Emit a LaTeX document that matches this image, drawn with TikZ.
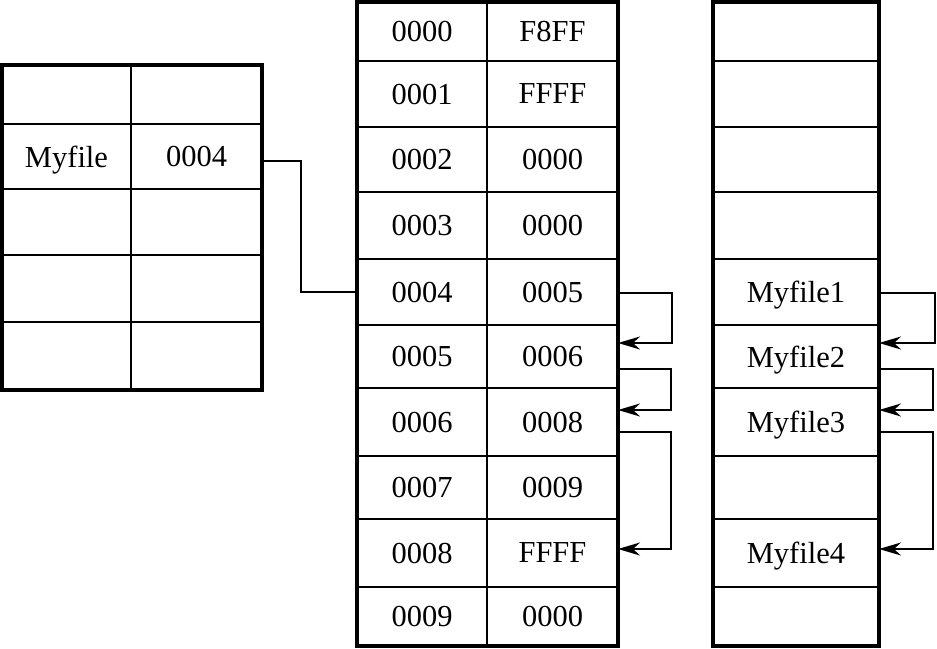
\documentclass[tikz,border=0pt]{standalone}
\usepackage{fontspec}
\setmainfont{Liberation Serif}
\usetikzlibrary{arrows.meta,calc}
\begin{document}
\begin{tikzpicture}[x=1pt,y=-1pt,
  cell/.style={draw,line width=2.2pt,rectangle,inner sep=0pt,outer sep=0pt,text depth=0pt,
    font=\fontsize{30.5}{32}\selectfont},
  outer/.style={draw,line width=3.2pt},
  link/.style={line width=2pt},
  arr/.style={line width=2pt,-{Stealth[length=22pt,width=13pt,inset=7pt]}}]
\useasboundingbox (0,0) rectangle (937,648);
% left table
\foreach \i/\t/\b/\la/\lb in {0/65/124//,1/124/189/Myfile/0004,2/189/255//,3/255/322//,4/322/390//}{
  \node[cell,minimum width=129pt,minimum height={(\b-\t)*1pt}] (l\i a) at (66.5,{(\t+\b)/2}) {\la};
  \node[cell,minimum width=131pt,minimum height={(\b-\t)*1pt}] (l\i b) at (196.5,{(\t+\b)/2}) {\lb};
}
\node[outer,rectangle,inner sep=0pt,minimum width=260pt,minimum height=325pt] (lt) at (132,227.5) {};
% middle table
\foreach \i/\t/\b/\la/\lb in {0/2/61/0000/F8FF,1/61/127/0001/FFFF,2/127/192/0002/0000,3/192/259/0003/0000,
  4/259/325/0004/0005,5/325/388/0005/0006,6/388/456/0006/0008,7/456/519/0007/0009,8/519/587/0008/FFFF,9/587/646/0009/0000}{
  \node[cell,minimum width=130pt,minimum height={(\b-\t)*1pt}] (m\i a) at (422,{(\t+\b)/2}) {\la};
  \node[cell,minimum width=131pt,minimum height={(\b-\t)*1pt}] (m\i b) at (552.5,{(\t+\b)/2}) {\lb};
}
\node[outer,rectangle,inner sep=0pt,minimum width=261pt,minimum height=644pt] (mt) at (487.5,324) {};
% right table
\foreach \i/\t/\b/\la in {0/2/61/,1/61/127/,2/127/192/,3/192/259/,
  4/259/325/Myfile1,5/325/388/Myfile2,6/388/456/Myfile3,7/456/519/,8/519/587/Myfile4,9/587/646/}{
  \node[cell,minimum width=166pt,minimum height={(\b-\t)*1pt}] (r\i) at (796,{(\t+\b)/2}) {\la};
}
\node[outer,rectangle,inner sep=0pt,minimum width=166pt,minimum height=644pt] (rt) at (796,324) {};
% connectors
\draw[link] ([yshift=-4pt]l1b.east) -- ++(39,0) |- (m4a.west);
\draw[arr] ([yshift=-1pt]m4b.east) -- ++(54,0) |- ([yshift=13.5pt]m5b.east);
\draw[arr] ([yshift=-12.5pt]m5b.east) -- ++(53,0) |- ([yshift=12pt]m6b.east);
\draw[arr] ([yshift=-10pt]m6b.east) -- ++(53,0) |- ([yshift=4pt]m8b.east);
\draw[arr] ([yshift=-1pt]r4.east) -- ++(56,0) |- ([yshift=13.5pt]r5.east);
\draw[arr] ([yshift=-12.5pt]r5.east) -- ++(54,0) |- ([yshift=12pt]r6.east);
\draw[arr] ([yshift=-10pt]r6.east) -- ++(54,0) |- ([yshift=4pt]r8.east);
\end{tikzpicture}
\end{document}
